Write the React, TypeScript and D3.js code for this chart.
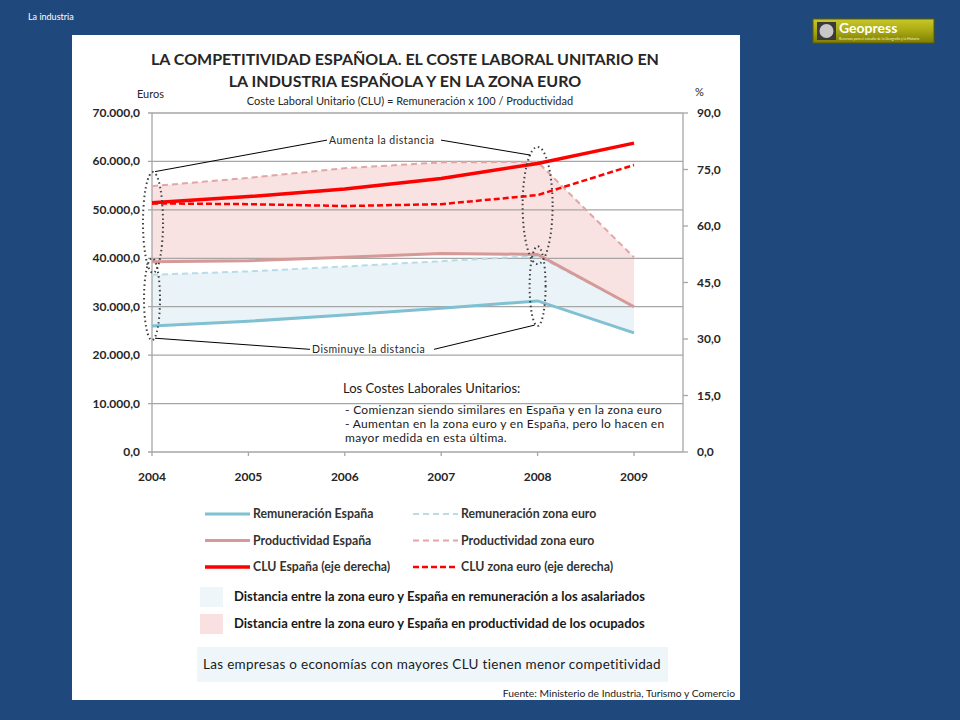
import React from 'react';
import * as d3 from 'd3';

// years on the x axis
const years = [2004, 2005, 2006, 2007, 2008, 2009];

// euros (left axis)
const remEspana = [26000, 27000, 28300, 29700, 31200, 24600];
const remEuro = [36600, 37300, 38300, 39400, 40500, 30000];
const prodEspana = [39300, 39500, 40200, 41000, 40800, 30000];
const prodEuro = [54900, 56600, 58600, 59800, 59900, 40200];

// CLU, % (right axis)
const cluEspana = [66.2, 67.8, 69.8, 72.6, 76.6, 82.0];
const cluEuro = [66.0, 65.8, 65.3, 65.8, 68.2, 76.2];

const leftTicks = [0, 10000, 20000, 30000, 40000, 50000, 60000, 70000];
const rightTicks = [0, 15, 30, 45, 60, 75, 90];

const legendItems = [
  { label: 'Remuneración España', color: '#7fc0d2', dash: '', w: 3 },
  { label: 'Remuneración zona euro', color: '#b7dce8', dash: '6 4', w: 2 },
  { label: 'Productividad España', color: '#d59a98', dash: '', w: 3 },
  { label: 'Productividad zona euro', color: '#e2a6a4', dash: '6 4', w: 2 },
  { label: 'CLU España (eje derecha)', color: '#ff0000', dash: '', w: 3.5 },
  { label: 'CLU zona euro (eje derecha)', color: '#ff0000', dash: '6 3', w: 2.5 },
];

const noteLines = [
  '- Comienzan siendo similares en España y en la zona euro',
  '- Aumentan en la zona euro y en España, pero lo hacen en',
  'mayor medida en esta última.',
];

// dotted ellipses: year, from / to value (euros)
const ellipses = [
  { year: 2004, dx: 1, from: 57800, to: 37000, rx: 10 },
  { year: 2004, dx: 0, from: 40000, to: 23100, rx: 8 },
  { year: 2008, dx: 0, from: 63000, to: 38800, rx: 15 },
  { year: 2008, dx: 0, from: 42500, to: 26000, rx: 8 },
];

const FONT = 'Lato, "Noto Sans", sans-serif';

const App: React.FC = () => {
  const left = 152;
  const right = 683;
  const top = 113;
  const bottom = 452;

  const x = d3.scaleLinear().domain([2004, 2009]).range([left, 634]);
  const y = d3.scaleLinear().domain([0, 70000]).range([bottom, top]);
  const y2 = d3.scaleLinear().domain([0, 90]).range([bottom, top]);

  const line = (vals: number[], sc: d3.ScaleLinear<number, number>) =>
    d3
      .line<number>()
      .x((_, i) => x(years[i]))
      .y((d) => sc(d))(vals) as string;

  const band = (hi: number[], lo: number[]) =>
    d3
      .area<number>()
      .x((_, i) => x(years[i]))
      .y0((_, i) => y(lo[i]))
      .y1((d) => y(d))(hi) as string;

  const series = [
    { vals: remEuro, sc: y, ...legendItems[1] },
    { vals: remEspana, sc: y, ...legendItems[0] },
    { vals: prodEuro, sc: y, ...legendItems[3] },
    { vals: prodEspana, sc: y, ...legendItems[2] },
    { vals: cluEuro, sc: y2, ...legendItems[5] },
    { vals: cluEspana, sc: y2, ...legendItems[4] },
  ];

  const grid = '#a6a6a6';
  const upY = y(64400);
  const downY = y(21200);

  return (
    <svg
      width={960}
      height={720}
      style={{ position: 'absolute', left: 0, top: 0 }}
      fontFamily={FONT}
    >
      <rect width={960} height={720} fill="#1f497d" />
      <text x={28} y={20} fill="#fff" fontSize={9}>
        La industria
      </text>

      {/* logo */}
      <defs>
        <linearGradient id="logo" x1="0" y1="0" x2="0" y2="1">
          <stop offset="0" stopColor="#c9c92a" />
          <stop offset="0.5" stopColor="#a8a812" />
          <stop offset="1" stopColor="#7d7d06" />
        </linearGradient>
      </defs>
      <rect x={813} y={19} width={121} height={24} fill="url(#logo)" stroke="#5c5c00" />
      <rect x={817} y={22} width={19} height={18} fill="#3a3a3a" />
      <circle cx={826.5} cy={31} r={7} fill="#c8c8c8" />
      <text x={839} y={33} fill="#fff" fontSize={14} fontWeight={700}>
        Geopress
      </text>
      <text x={839} y={40} fill="#f4f4c0" fontSize={3.5}>
        Recursos para el estudio de la Geografía y la Historia
      </text>

      <rect x={72} y={35} width={668} height={665} fill="#fff" />

      {/* titles */}
      <g textAnchor="middle" fill="#262626">
        <text x={405} y={65} fontSize={16} fontWeight={700}>
          LA COMPETITIVIDAD ESPAÑOLA. EL COSTE LABORAL UNITARIO EN
        </text>
        <text x={405} y={87} fontSize={16} fontWeight={700}>
          LA INDUSTRIA ESPAÑOLA Y EN LA ZONA EURO
        </text>
        <text x={410} y={105} fontSize={11}>
          Coste Laboral Unitario (CLU) = Remuneración x 100 / Productividad
        </text>
      </g>
      <text x={137} y={98} fontSize={11} fill="#262626">
        Euros
      </text>
      <text x={695} y={96} fontSize={11} fill="#262626">
        %
      </text>

      {/* fills */}
      <path d={band(remEuro, remEspana)} fill="#eaf4f8" />
      <path d={band(prodEuro, prodEspana)} fill="#f8e2e2" />

      {/* grid */}
      {leftTicks.map((t) => (
        <g key={t}>
          <line x1={left - 4} x2={right} y1={y(t)} y2={y(t)} stroke={grid} strokeWidth={1.3} />
          <text
            x={140}
            y={y(t) + 4}
            textAnchor="end"
            fontSize={12}
            fontWeight={700}
            fill="#262626"
          >
            {d3.format(',.1f')(t).replace(/,/g, '#').replace('.', ',').replace(/#/g, '.')}
          </text>
        </g>
      ))}
      <line x1={left} x2={left} y1={top} y2={bottom} stroke={grid} strokeWidth={1.3} />
      <line x1={right} x2={right} y1={top} y2={bottom} stroke={grid} strokeWidth={1.3} />
      {rightTicks.map((t) => (
        <g key={t}>
          <line x1={right} x2={right + 5} y1={y2(t)} y2={y2(t)} stroke={grid} strokeWidth={1.3} />
          <text x={697} y={y2(t) + 4} fontSize={12} fontWeight={700} fill="#262626">
            {t.toFixed(1).replace('.', ',')}
          </text>
        </g>
      ))}
      {years.map((yr) => (
        <g key={yr}>
          <line x1={x(yr)} x2={x(yr)} y1={bottom} y2={bottom + 4} stroke={grid} strokeWidth={1.3} />
          <text
            x={x(yr)}
            y={481}
            textAnchor="middle"
            fontSize={12}
            fontWeight={700}
            fill="#262626"
          >
            {yr}
          </text>
        </g>
      ))}

      {/* series */}
      {series.map((s) => (
        <path
          key={s.label}
          d={line(s.vals, s.sc)}
          fill="none"
          stroke={s.color}
          strokeWidth={s.w}
          strokeDasharray={s.dash}
        />
      ))}

      {/* annotations */}
      {ellipses.map((e, i) => (
        <ellipse
          key={i}
          cx={x(e.year) + e.dx}
          cy={(y(e.from) + y(e.to)) / 2}
          rx={e.rx}
          ry={(y(e.to) - y(e.from)) / 2}
          fill="none"
          stroke="#404040"
          strokeWidth={2}
          strokeDasharray="1.5 3"
        />
      ))}
      <g stroke="#000" strokeWidth={1} fill="none">
        <polyline points={`${x(2004) + 3},${y(57900)} 327,${upY}`} />
        <polyline points={`441,${upY} ${x(2008) - 7},${y(61300)}`} />
        <polyline points={`${x(2004) + 3},${y(23500)} 310,${downY}`} />
        <polyline points={`434,${downY} ${x(2008) - 3},${y(26200)}`} />
      </g>
      <g fontSize={10.5} fill="#262626" letterSpacing={0.5}>
        <text x={329} y={upY + 4}>Aumenta la distancia</text>
        <text x={312} y={downY + 4}>Disminuye la distancia</text>
      </g>

      <text x={343} y={393} fontSize={13} fill="#1a1a1a">
        Los Costes Laborales Unitarios:
      </text>
      <g fontSize={12} fill="#1a1a1a" letterSpacing={0.3}>
        {noteLines.map((t, i) => (
          <text key={i} x={345} y={414 + i * 14}>
            {t}
          </text>
        ))}
      </g>

      {/* legend */}
      {legendItems.map((l, i) => {
        const lx = i % 2 === 0 ? 205 : 413;
        const ly = 514 + Math.floor(i / 2) * 26.5;
        return (
          <g key={l.label}>
            <line
              x1={lx}
              x2={lx + 45}
              y1={ly}
              y2={ly}
              stroke={l.color}
              strokeWidth={l.w}
              strokeDasharray={l.dash}
            />
            <text x={lx + 48} y={ly + 4} fontSize={12.3} fontWeight={700} fill="#333">
              {l.label}
            </text>
          </g>
        );
      })}
      <rect x={200} y={587} width={23} height={20} fill="#eef6fa" />
      <rect x={200} y={614} width={23} height={20} fill="#f9e1e1" />
      <g fontSize={13} fontWeight={700} fill="#1a1a1a">
        <text x={234} y={601}>Distancia entre la zona euro y España en remuneración a los asalariados</text>
        <text x={234} y={628}>Distancia entre la zona euro y España en productividad de los ocupados</text>
      </g>

      <rect x={197} y={647} width={471} height={35} fill="#eef6fa" />
      <text
        x={432}
        y={669}
        textAnchor="middle"
        fontSize={13.5}
        letterSpacing={0.3}
        fill="#1a1a1a"
      >
        Las empresas o economías con mayores CLU tienen menor competitividad
      </text>
      <text x={735} y={697} textAnchor="end" fontSize={10.3} fill="#1a1a1a">
        Fuente: Ministerio de Industria, Turismo y Comercio
      </text>
    </svg>
  );
};

export default App;
